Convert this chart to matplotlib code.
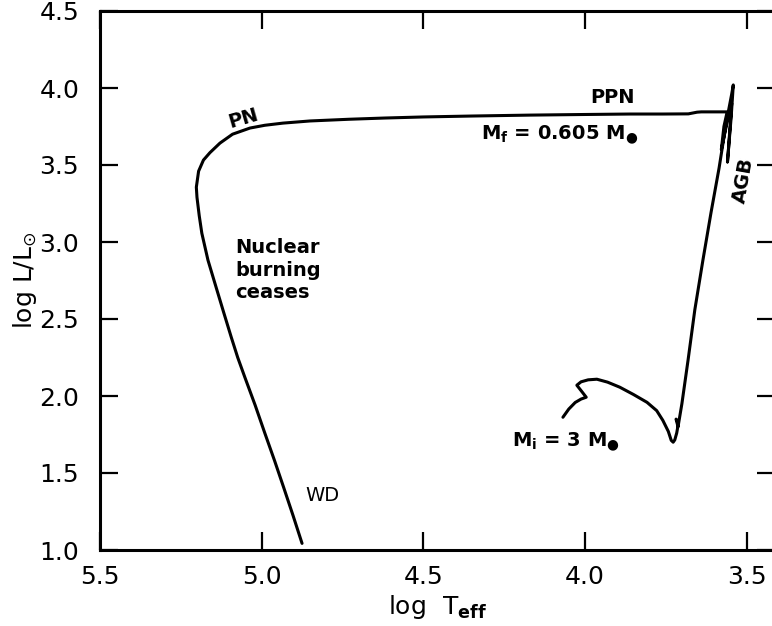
import numpy as np
import matplotlib
matplotlib.use("Agg")
import matplotlib.pyplot as plt

# evolutionary track of a 3 Msun star (log Teff, log L/Lsun)
# main sequence -> hook -> red giant branch
pre_teff = [4.068, 4.050, 4.030, 4.012, 3.996, 4.010, 4.025, 4.012, 3.990,
            3.963, 3.930, 3.892, 3.850, 3.808, 3.778, 3.759, 3.742, 3.733,
            3.727, 3.722, 3.716, 3.711, 3.718, 3.712, 3.700, 3.681, 3.660,
            3.635, 3.610, 3.585]
pre_logl = [1.862, 1.915, 1.958, 1.980, 1.992, 2.030, 2.070, 2.092, 2.105,
            2.109, 2.090, 2.057, 2.010, 1.959, 1.905, 1.842, 1.770, 1.712,
            1.700, 1.715, 1.760, 1.820, 1.850, 1.800, 1.950, 2.232, 2.560,
            2.882, 3.190, 3.480]
# asymptotic giant branch with thermal pulses
agb_teff = [3.570, 3.556, 3.546, 3.541, 3.548, 3.556, 3.559, 3.556, 3.550,
            3.546, 3.552, 3.568, 3.578, 3.570, 3.560]
agb_logl = [3.680, 3.850, 3.960, 4.020, 3.800, 3.600, 3.520, 3.600, 3.780,
            3.900, 3.860, 3.700, 3.600, 3.750, 3.845]
# post-AGB: PPN -> PN -> cooling towards the white dwarf
post_teff = [3.600, 3.640, 3.653, 3.680, 3.760, 3.860, 4.000, 4.170, 4.350,
             4.500, 4.620, 4.730, 4.850, 4.934, 4.990, 5.036, 5.090, 5.129,
             5.160, 5.180, 5.195, 5.202, 5.200, 5.193, 5.185, 5.166, 5.140,
             5.117, 5.094, 5.074, 5.052, 5.020, 4.990, 4.960, 4.932, 4.903,
             4.875]
post_logl = [3.845, 3.845, 3.843, 3.832, 3.831, 3.831, 3.828, 3.824, 3.818,
             3.812, 3.805, 3.797, 3.786, 3.772, 3.758, 3.740, 3.700, 3.642,
             3.580, 3.532, 3.460, 3.356, 3.290, 3.170, 3.057, 2.882, 2.700,
             2.540, 2.382, 2.250, 2.122, 1.940, 1.758, 1.580, 1.407, 1.225,
             1.043]

xticks = [5.5, 5.0, 4.5, 4.0, 3.5]
yticks = [1.0, 1.5, 2.0, 2.5, 3.0, 3.5, 4.0, 4.5]

plt.rcParams['font.family'] = ['DejaVu Sans']
plt.rcParams['mathtext.default'] = 'regular'

fig = plt.figure(figsize=(7.72, 6.26), dpi=100)
ax = fig.add_axes([100 / 772, 76 / 626, 675 / 772, 539 / 626])

teff = pre_teff + agb_teff + post_teff
logl = pre_logl + agb_logl + post_logl
ax.plot(teff, logl, color='black', lw=2.2, solid_joinstyle='round',
        solid_capstyle='round')

ax.set_xlim(5.5, 3.412)
ax.set_ylim(1.0, 4.5)
ax.set_xticks(xticks)
ax.set_yticks(yticks)
ax.set_xticklabels([f'{v:.1f}' for v in xticks])
ax.set_yticklabels([f'{v:.1f}' for v in yticks])
ax.tick_params(direction='in', length=13, width=1.6, labelsize=18,
               top=True, right=True, color='black')
ax.tick_params(axis='x', pad=11)
ax.tick_params(axis='y', pad=15)
for sp in ax.spines.values():
    sp.set_linewidth(2.2)

ax.set_xlabel(r'log  T$_{\mathbf{eff}}$', fontsize=18, labelpad=3)
ax.set_ylabel(r'log L/L$_{\odot}$', fontsize=18, labelpad=0)

bold = dict(fontsize=14, fontweight='bold', color='black')
ax.text(5.058, 3.805, 'PN', rotation=16, ha='center', va='center', **bold)
ax.text(3.916, 3.941, 'PPN', ha='center', va='center', **bold)
ax.text(4.077, 3.694, r'M$_\mathbf{f}$ = 0.605 M$_●$', ha='center',
        va='center', **bold)
ax.text(3.508, 3.402, 'AGB', rotation=80, ha='center', va='center', **bold)
ax.text(5.082, 2.817, 'Nuclear\nburning\nceases', ha='left', va='center',
        linespacing=1.25, **bold)
ax.text(4.059, 1.70, r'M$_\mathbf{i}$ = 3 M$_●$', ha='center', va='center',
        **bold)
ax.text(4.813, 1.355, 'WD', ha='center', va='center', fontsize=14,
        color='black')

fig.savefig('out.png', dpi=100)
